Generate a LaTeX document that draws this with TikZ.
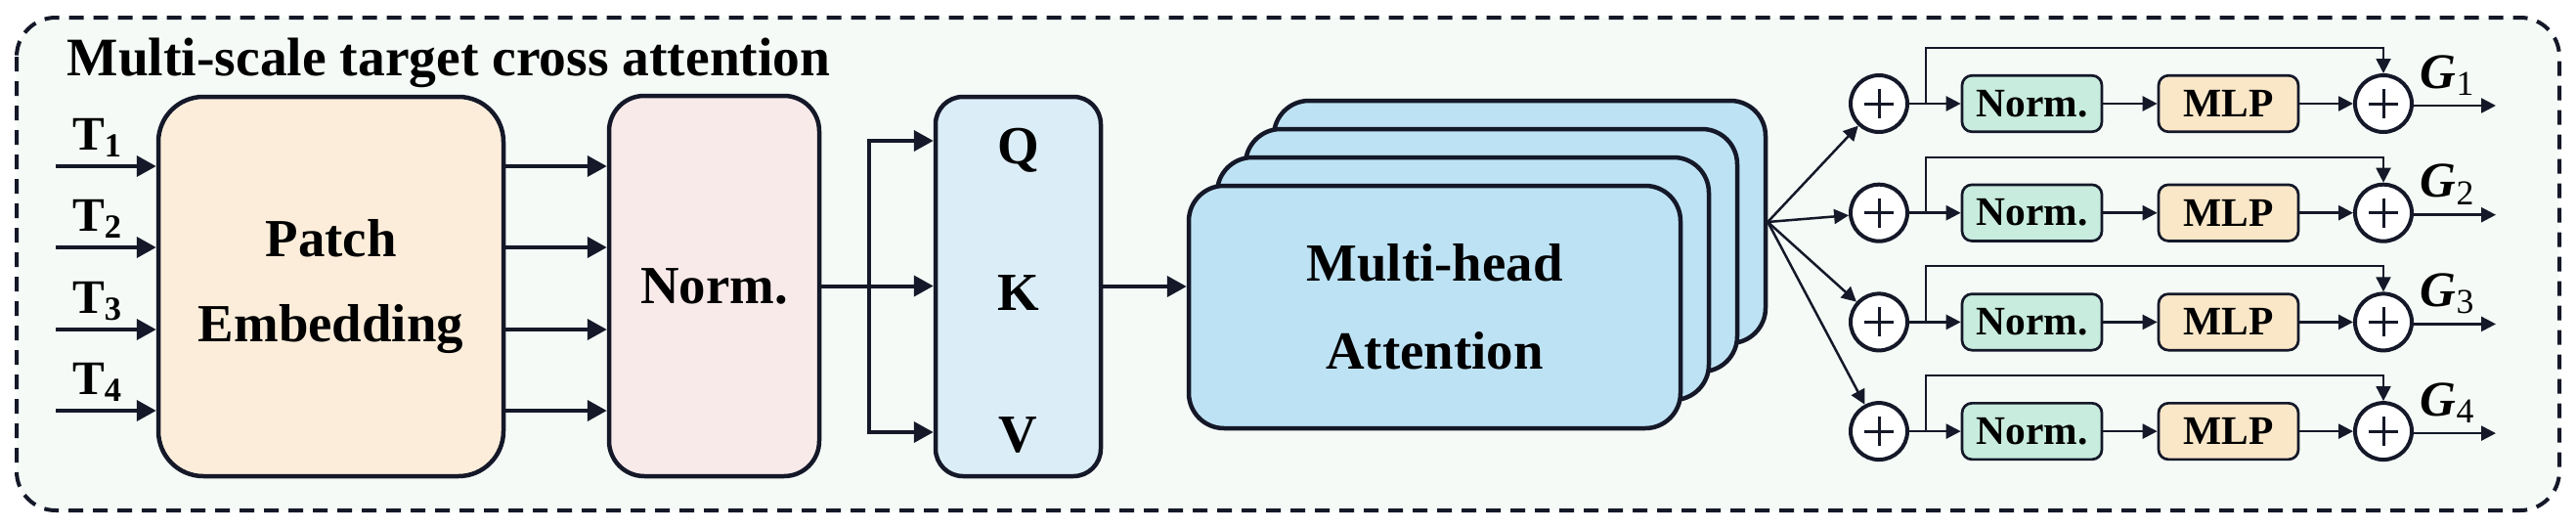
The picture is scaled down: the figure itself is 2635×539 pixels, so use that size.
\documentclass[tikz,border=0pt]{standalone}
\usepackage{fontspec}
\setmainfont{Liberation Serif}
\usetikzlibrary{arrows.meta}

\definecolor{linec}{HTML}{141828}
\definecolor{bgc}{HTML}{F5FAF7}
\definecolor{patchc}{HTML}{FBEDDA}
\definecolor{normc}{HTML}{F9EAEA}
\definecolor{qkvc}{HTML}{DBEDF7}
\definecolor{mhac}{HTML}{BDE2F4}
\definecolor{lnc}{HTML}{C8ECDE}
\definecolor{mlpc}{HTML}{FAE7C8}

\tikzset{
  bigbox/.style={draw=linec, line width=0.45mm, rounded corners=4mm, align=center,
    inner sep=0pt, font=\fontsize{15.6}{25}\selectfont\bfseries},
  subbox/.style={draw=linec, line width=0.27mm, rounded corners=1mm,
    minimum width=14.3mm, minimum height=5.75mm, inner sep=0pt,
    font=\fontsize{11.8}{14}\selectfont\bfseries},
  addop/.style={circle, draw=linec, line width=0.4mm, fill=white,
    minimum size=5.8mm, inner sep=0pt,
    path picture={\draw[linec, line width=0.3mm]
      ([xshift=-1.5mm]path picture bounding box.center) -- ([xshift=1.5mm]path picture bounding box.center)
      ([yshift=-1.5mm]path picture bounding box.center) -- ([yshift=1.5mm]path picture bounding box.center);}},
  tlbl/.style={font=\fontsize{14}{16}\selectfont\bfseries, inner sep=0pt},
  glbl/.style={font=\fontsize{14.5}{16}\selectfont\bfseries, inner sep=0pt},
  thick arr/.style={linec, line width=0.4mm, -{Triangle[length=2mm,width=2.1mm]}},
  thin arr/.style={linec, line width=0.25mm, -{Triangle[length=1.5mm,width=1.5mm]}},
}

\begin{document}
\begin{tikzpicture}[x=0.1mm, y=-0.1mm]
  \useasboundingbox (0,0) rectangle (2635,539);
  % frame
  \draw[linec, fill=bgc, line width=0.4mm, dash pattern=on 1.5mm off 1mm,
    rounded corners=4mm] (17,18) rectangle (2618,522);
  \node[anchor=base west, inner sep=0pt, font=\fontsize{15.8}{18}\selectfont\bfseries]
    (title) at (68,77) {Multi-scale target cross attention};

  % left blocks
  \node[bigbox, fill=patchc, minimum width=35.3mm, minimum height=38.8mm,
    rounded corners=4.6mm] (patch) at (338.5,293) {Patch\\Embedding};
  \node[bigbox, fill=normc, minimum width=21.5mm, minimum height=38.9mm,
    rounded corners=3.6mm] (norm) at (730.5,292.5) {Norm.};
  \node[bigbox, fill=qkvc, minimum width=16.9mm, minimum height=38.8mm,
    rounded corners=2.8mm] (qkv) at (1041.5,293) {};
  \node[bigbox, draw=none, anchor=base] (q) at (1041.5,167) {Q};
  \node[bigbox, draw=none, anchor=base] (k) at (1041.5,317) {K};
  \node[bigbox, draw=none, anchor=base] (v) at (1041.5,462) {V};

  \foreach \i/\y in {1/170,2/253,3/337,4/420}{
    \coordinate (in\i) at (57,\y);
    \node[tlbl, anchor=base] (t\i) at (100,\y-17) {T\textsubscript{\i}};
    \draw[thick arr] (in\i) -- (in\i -| patch.west);
    \draw[thick arr] (in\i -| patch.east) -- (in\i -| norm.west);
  }

  \coordinate (split) at (889,292.5);
  \draw[thick arr] (norm.east) -- (norm.east -| qkv.west);
  \draw[thick arr] (split) |- (qkv.west |- 0,144);
  \draw[thick arr] (split) |- (qkv.west |- 0,442);

  % multi-head stack, back to front
  \foreach \j/\cx/\cy in {4/1554.5/227, 3/1525.5/256, 2/1496.5/285}
    \node[bigbox, fill=mhac, minimum width=50.3mm, minimum height=24.8mm,
      rounded corners=3.6mm] (mha\j) at (\cx,\cy) {};
  \node[bigbox, fill=mhac, minimum width=50.3mm, minimum height=24.8mm,
    rounded corners=3.6mm, font=\fontsize{15.6}{25.6}\selectfont\bfseries]
    (mha1) at (1467.5,314) {Multi-head\\Attention};
  \draw[thick arr] (qkv.east) -- (qkv.east -| mha1.west);

  % output branches
  \foreach \r in {1,2,3,4}{
    \pgfmathsetmacro\y{106+111.7*(\r-1)}
    \node[addop] (pin\r) at (1922,\y) {};
    \node[subbox, fill=lnc] (ln\r) at (2078.5,\y) {Norm.};
    \node[subbox, fill=mlpc] (mlp\r) at (2279.5,\y) {MLP};
    \node[addop] (pout\r) at (2438,\y) {};
    \coordinate (sk\r) at (1970,\y);
    \coordinate (out\r) at (2553,\y+2);
    \node[glbl, anchor=base] (g\r) at (2504,\y-16) {\textit{G}\textsubscript{\mdseries\r}};
    \draw[thin arr] (mha4.east) -- (pin\r);
    \draw[thin arr] (pin\r) -- (ln\r);
    \draw[thin arr] (ln\r) -- (mlp\r);
    \draw[thin arr] (mlp\r) -- (pout\r);
    \draw[thin arr] (pout\r.east |- out\r) -- (out\r);
    \draw[thin arr, line width=0.2mm] (sk\r) -- ++(0,-57) -| (pout\r);
  }
\end{tikzpicture}
\end{document}
